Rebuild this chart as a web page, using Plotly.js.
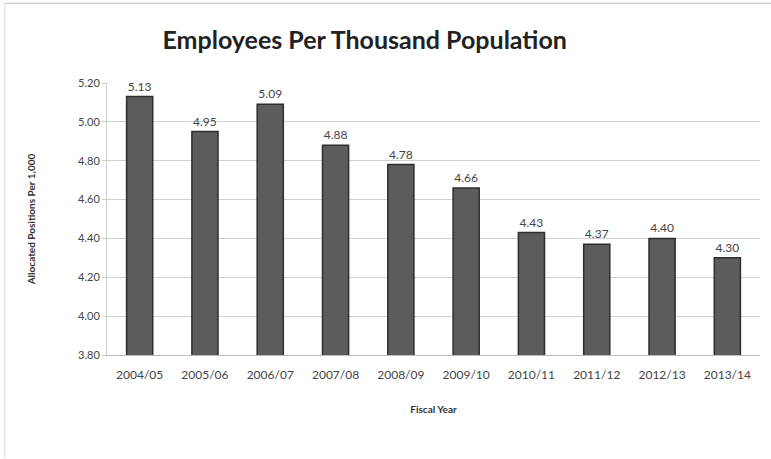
<!DOCTYPE html>
<html>
<head>
<meta charset="utf-8">
<script src="https://cdn.plot.ly/plotly-3.0.1.min.js"></script>
<style>html,body{margin:0;padding:0;background:#fff;}#chart{width:771px;height:459px;}</style>
</head>
<body>
<div id="chart"></div>
<script>
var years = ["2004/05","2005/06","2006/07","2007/08","2008/09","2009/10","2010/11","2011/12","2012/13","2013/14"];
var values = [5.13, 4.95, 5.09, 4.88, 4.78, 4.66, 4.43, 4.37, 4.40, 4.30];
var yTicks = [3.8, 4.0, 4.2, 4.4, 4.6, 4.8, 5.0, 5.2];

var fontFam = "Lato, 'Open Sans', sans-serif";
var trace = {
  type: "bar",
  x: years,
  y: values,
  text: values.map(function(v){return v.toFixed(2);}),
  textposition: "outside",
  cliponaxis: false,
  textfont: {family: fontFam, size: 12, color: "#444"},
  marker: {color: "#5c5c5c", line: {color: "#2e2e2e", width: 1.5}},
  hoverinfo: "skip"
};

var layout = {
  width: 771, height: 459,
  margin: {l: 107, r: 11, t: 83, b: 104},
  paper_bgcolor: "#fff", plot_bgcolor: "#fff",
  bargap: 0.6,
  showlegend: false,
  title: {text: "<b>Employees Per Thousand Population</b>", x: 0.473, xanchor: "center", y: 0.913, yanchor: "middle",
    font: {family: fontFam, size: 25, color: "#222"}},
  xaxis: {
    tickfont: {family: fontFam, size: 12, color: "#444"},
    showgrid: false, showline: true, linecolor: "#bbb", linewidth: 1,
    ticks: "", ticklabelstandoff: 9,
    title: {text: "<b>Fiscal Year</b>", standoff: 24, font: {family: fontFam, size: 10, color: "#333"}}
  },
  yaxis: {
    range: [3.8, 5.2],
    tickvals: yTicks,
    ticktext: yTicks.map(function(v){return v.toFixed(2);}),
    tickfont: {family: fontFam, size: 11, color: "#444"},
    showgrid: true, gridcolor: "#d0d0d0", gridwidth: 1,
    zeroline: false, showline: true, linecolor: "#d0d0d0",
    ticks: "outside", ticklen: 4, tickcolor: "#ccc",
    title: {text: "<b>Allocated Positions Per 1,000</b>", standoff: 40, font: {family: fontFam, size: 10, color: "#333"}}
  },
  shapes: [
    {type: "line", xref: "paper", yref: "paper", x0: -0.1565, x1: 1.017, y0: 1.293, y1: 1.293, line: {color: "#bdbdbd", width: 1}},
    {type: "line", xref: "paper", yref: "paper", x0: -0.1565, x1: -0.1565, y0: 1.293, y1: -0.38, line: {color: "#d8d8d8", width: 1}}
  ]
};

Plotly.newPlot("chart", [trace], layout, {displayModeBar: false, staticPlot: true});
</script>
</body>
</html>
